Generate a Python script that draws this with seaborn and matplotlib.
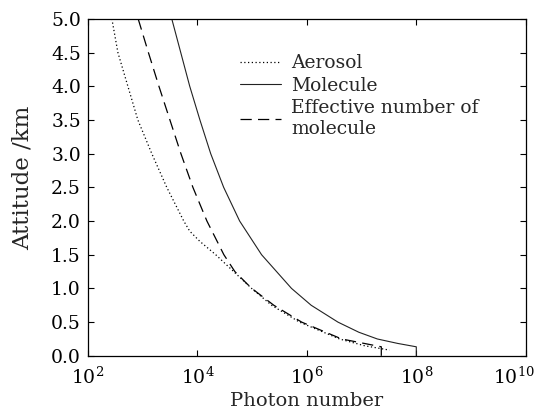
import matplotlib
matplotlib.use("Agg")
import matplotlib.pyplot as plt
import matplotlib.transforms as mtransforms
import seaborn as sns
import pandas as pd

# Data (photon number vs altitude in km)
aerosol_alt = [5.0, 4.5, 4.0, 3.5, 3.0, 2.5, 2.0, 1.85, 1.7, 1.5, 1.0, 0.75, 0.5,
               0.25, 0.15, 0.085]
aerosol_photon = [274, 353, 537, 817, 1469, 2758, 5636, 7244, 1.104e4, 2.163e4, 9.796e4,
                  2.27e5, 7.36e5, 3.95e6, 1.13e7, 3.23e7]

effective_alt = [5.0, 4.5, 4.0, 3.5, 3.0, 2.5, 2.0, 1.5, 1.25, 1.075, 1.0, 0.75, 0.5,
                 0.25, 0.134, 0.0]
effective_photon = [828, 1274, 1982, 3148, 5000, 8280, 1.493e4, 3.048e4, 4.84e4, 7.925e4,
                    9.88e4, 2.493e5, 8.05e5, 4.33e6, 2.29e7, 2.29e7]

molecule_alt = [5.0, 4.5, 4.0, 3.5, 3.0, 2.5, 2.0, 1.5, 1.0, 0.75, 0.5, 0.35, 0.25,
                0.184, 0.134, 0.0]
molecule_photon = [3404, 4966, 7244, 1.112e4, 1.75e4, 3.02e4, 5.916e4, 1.489e5, 5.248e5,
                   1.2e6, 3.7e6, 8.9e6, 1.94e7, 4.57e7, 9.98e7, 9.98e7]

labels = ["Aerosol", "Molecule", "Effective number of\nmolecule"]
xticks = [1e2, 1e4, 1e6, 1e8, 1e10]
yticks = [0.0, 0.5, 1.0, 1.5, 2.0, 2.5, 3.0, 3.5, 4.0, 4.5, 5.0]

sns.set_theme(style="ticks")
plt.rcParams["font.family"] = ["DejaVu Serif"]
plt.rcParams["mathtext.fontset"] = "dejavuserif"

fig = plt.figure(figsize=(5.36, 4.09), dpi=100)
ax = fig.add_axes([0.164, 0.130, 0.817, 0.824])

df_a = pd.DataFrame({"x": aerosol_photon, "y": aerosol_alt})
df_m = pd.DataFrame({"x": molecule_photon, "y": molecule_alt})
df_e = pd.DataFrame({"x": effective_photon, "y": effective_alt})

sns.lineplot(data=df_a, x="x", y="y", sort=False, estimator=None, ax=ax,
             color="black", lw=0.9, linestyle=(0, (1, 2)), label=labels[0])
sns.lineplot(data=df_m, x="x", y="y", sort=False, estimator=None, ax=ax,
             color="#222222", lw=0.8, linestyle="-", label=labels[1])
sns.lineplot(data=df_e, x="x", y="y", sort=False, estimator=None, ax=ax,
             color="black", lw=0.9, linestyle=(0, (9, 5)), label=labels[2])

ax.set_xscale("log")
ax.set_xlim(1e2, 1e10)
ax.set_ylim(0, 5.0)
ax.set_xticks(xticks)
ax.set_yticks(yticks)
ax.set_yticklabels([f"{v:.1f}" for v in yticks])
ax.minorticks_off()
ax.tick_params(axis="both", which="major", direction="in", length=4, width=0.8,
               labelsize=13.5, top=True, right=True, colors="black")
ax.tick_params(axis="x", pad=8)
ax.tick_params(axis="y", pad=5)
for s in ax.spines.values():
    s.set_linewidth(0.9)
    s.set_color("black")

# shift the last x tick label left so it fits inside the figure
last = ax.xaxis.get_major_ticks()[-1].label1
offset = mtransforms.ScaledTranslation(-12 / 100, 0, fig.dpi_scale_trans)
last.set_transform(last.get_transform() + offset)

ax.set_xlabel("Photon number", fontsize=14, labelpad=3)
ax.set_ylabel("Attitude /km", fontsize=16.5)
ax.yaxis.set_label_coords(-0.125, 0.528)

leg = ax.legend(loc="upper left", bbox_to_anchor=(0.33, 0.917), frameon=False,
                fontsize=13.5, handlelength=2.2, handletextpad=0.55,
                labelspacing=0.24, borderaxespad=0)

fig.savefig("out.png", dpi=100)
